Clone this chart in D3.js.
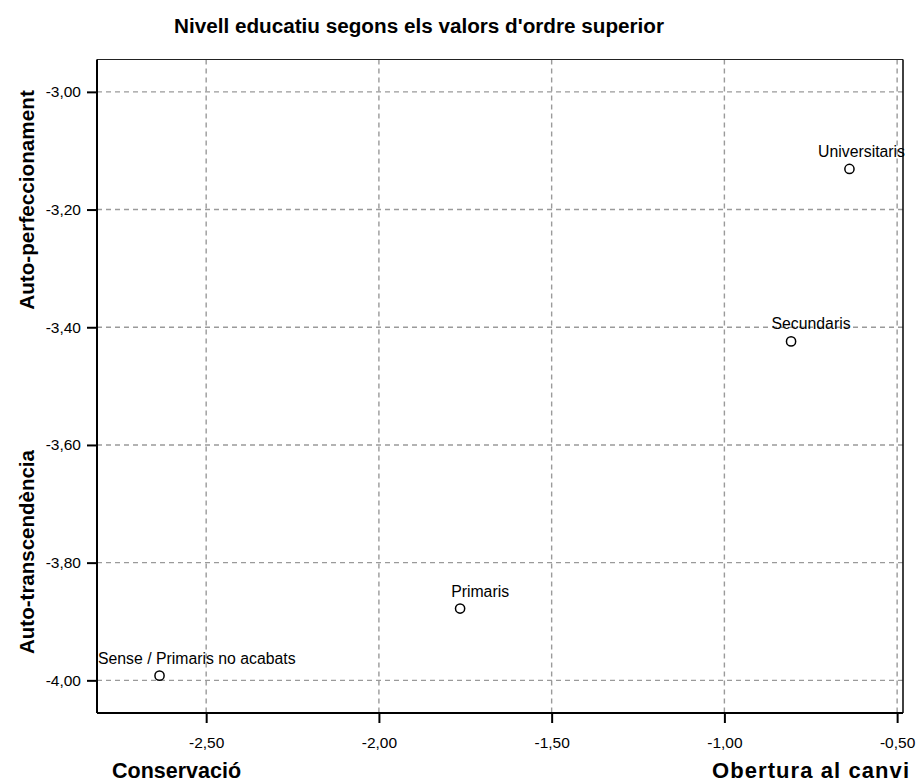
<!DOCTYPE html>
<html>
<head>
<meta charset="utf-8">
<script src="https://cdn.jsdelivr.net/npm/d3@7"></script>
<style>
  html, body { margin: 0; padding: 0; background: #fff; }
  svg { display: block; font-family: "Liberation Sans", Arial, sans-serif; }
</style>
</head>
<body>
<svg id="chart" width="916" height="783"></svg>
<script>
// ---- Data ----
const title = "Nivell educatiu segons els valors d'ordre superior";
const categories = ["Universitaris", "Secundaris", "Primaris", "Sense / Primaris no acabats"];
const xValues = [-0.638, -0.807, -1.765, -2.635];   // Conservació ↔ Obertura al canvi
const yValues = [-3.131, -3.424, -3.878, -3.992];   // Auto-transcendència ↔ Auto-perfeccionament
const xTicks = [-2.5, -2.0, -1.5, -1.0, -0.5];
const yTicks = [-3.0, -3.2, -3.4, -3.6, -3.8, -4.0];
const xAxisLabels = ["Conservació", "Obertura al canvi"];
const yAxisLabels = ["Auto-perfeccionament", "Auto-transcendència"];

// ---- Layout ----
const frame = { left: 97, right: 903, top: 59.5, bottom: 713 };
const svg = d3.select("#chart");

const x = d3.scaleLinear().domain([-2.816, -0.483]).range([frame.left, frame.right]);
const y = d3.scaleLinear().domain([-2.945, -4.0555]).range([frame.top, frame.bottom]);

const loc = d3.formatLocale({ decimal: ",", thousands: ".", grouping: [3], currency: ["", "€"], minus: "-" });
const fmt = loc.format(".2f");

// Grid
const grid = svg.append("g").attr("stroke", "#9a9a9a").attr("stroke-width", 1.4).attr("stroke-dasharray", "5,4");
grid.selectAll("line.h").data(yTicks).join("line")
  .attr("x1", frame.left).attr("x2", frame.right)
  .attr("y1", d => y(d)).attr("y2", d => y(d));
grid.selectAll("line.v").data(xTicks).join("line")
  .attr("y1", frame.top).attr("y2", frame.bottom)
  .attr("x1", d => x(d)).attr("x2", d => x(d));

// Top & right border
svg.append("line").attr("x1", frame.left).attr("x2", frame.right).attr("y1", frame.top).attr("y2", frame.top)
  .attr("stroke", "#222").attr("stroke-width", 1.2);
svg.append("line").attr("x1", frame.right).attr("x2", frame.right).attr("y1", frame.top).attr("y2", frame.bottom)
  .attr("stroke", "#111").attr("stroke-width", 1.6);

// Axes
const xAxis = d3.axisBottom(x).tickValues(xTicks).tickFormat(fmt).tickSize(10).tickPadding(14);
const yAxis = d3.axisLeft(y).tickValues(yTicks).tickFormat(fmt).tickSize(10).tickPadding(6);

const gx = svg.append("g").attr("transform", `translate(0,${frame.bottom})`).call(xAxis);
const gy = svg.append("g").attr("transform", `translate(${frame.left},0)`).call(yAxis);
[gx, gy].forEach(g => {
  g.select(".domain").attr("stroke", "#000").attr("stroke-width", 2);
  g.selectAll(".tick line").attr("stroke", "#000").attr("stroke-width", 2);
  g.selectAll(".tick text").attr("fill", "#000").attr("font-size", 15.5)
    .attr("font-family", "'Liberation Sans', Arial, sans-serif");
});
gx.select(".domain").attr("d", `M${frame.left},0H${frame.right}`);
gy.select(".domain").attr("d", `M0,${frame.top}V${frame.bottom}`);

// Points
const pts = categories.map((c, i) => ({ c, x: xValues[i], y: yValues[i] }));
svg.append("g").selectAll("circle").data(pts).join("circle")
  .attr("cx", d => x(d.x)).attr("cy", d => y(d.y)).attr("r", 4.6)
  .attr("fill", "#fff").attr("stroke", "#000").attr("stroke-width", 1.5);

// Point labels: centered to the right of the point, clamped inside the frame
const lbl = svg.append("g").selectAll("text").data(pts).join("text")
  .attr("font-size", 15.8).attr("fill", "#000")
  .attr("y", d => y(d.y) - 12)
  .text(d => d.c);
lbl.each(function(d) {
  const w = this.getComputedTextLength();
  let left = x(d.x) + 20 - w / 2;
  left = Math.max(frame.left + 1, Math.min(frame.right + 2 - w, left));
  d3.select(this).attr("x", left);
});

// Title
svg.append("text").attr("x", 419).attr("y", 33).attr("text-anchor", "middle")
  .attr("font-size", 20.7).attr("font-weight", "bold").text(title);

// X axis titles
svg.append("text").attr("x", 112).attr("y", 778).attr("font-size", 21.5).attr("font-weight", "bold").text(xAxisLabels[0]);
svg.append("text").attr("x", 712).attr("y", 778).attr("font-size", 22)
  .attr("textLength", 197).attr("lengthAdjust", "spacing").attr("font-weight", "bold").text(xAxisLabels[1]);

// Y axis titles (rotated)
svg.append("text").attr("transform", "translate(34,200) rotate(-90)").attr("text-anchor", "middle")
  .attr("font-size", 20.7).attr("font-weight", "bold").text(yAxisLabels[0]);
svg.append("text").attr("transform", "translate(34,552) rotate(-90)").attr("text-anchor", "middle")
  .attr("font-size", 20.5).attr("font-weight", "bold").text(yAxisLabels[1]);
</script>
</body>
</html>
